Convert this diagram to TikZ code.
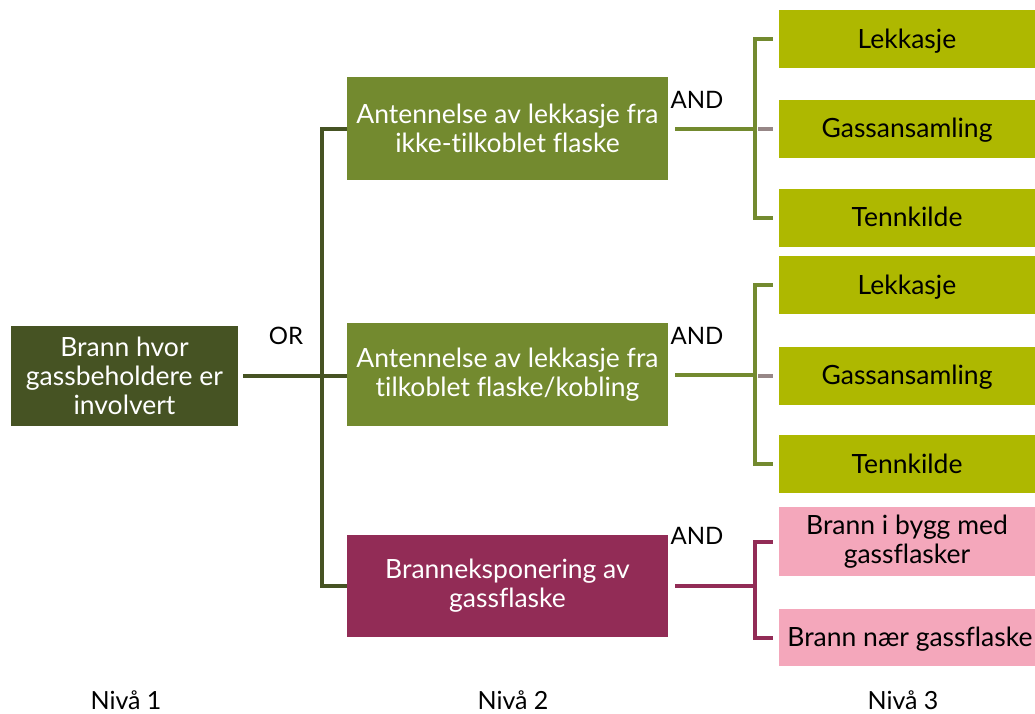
\documentclass[tikz,border=0pt]{standalone}
\usepackage{fontspec}
\setmainfont[Ligatures=NoCommon]{Lato}
\definecolor{rootc}{HTML}{465323}
\definecolor{lvgreen}{HTML}{738A2F}
\definecolor{lime}{HTML}{AEB800}
\definecolor{maroon}{HTML}{922C56}
\definecolor{pinkc}{HTML}{F4A7BB}
\definecolor{stub}{HTML}{978787}
\tikzset{
  box/.style={draw=none, inner sep=1pt, align=center, font=\fontsize{26.5}{29}\selectfont},
  rootbox/.style={box, fill=rootc, text=white, minimum width=227pt, minimum height=100pt},
  lvtwo/.style={box, fill=lvgreen, text=white, minimum width=321pt, minimum height=103pt},
  lvtwom/.style={box, fill=maroon, text=white, minimum width=321pt, minimum height=102pt},
  lvthree/.style={box, fill=lime, text=black, minimum width=256pt, minimum height=58pt, text height=23pt, text depth=5pt},
  lvpink/.style={box, fill=pinkc, text=black, minimum width=256pt},
  lbl/.style={inner sep=0pt, font=\fontsize{24}{28}\selectfont},
  lvl/.style={inner sep=0pt, font=\fontsize{25}{29}\selectfont},
  conn/.style={line width=4pt},
}
\begin{document}
\begin{tikzpicture}[x=1pt,y=-1pt]
\useasboundingbox (0,0) rectangle (1035,713);
% nodes
\node[rootbox] (root) at (124.5,376) {Brann hvor\\gassbeholdere er\\involvert};
\node[lvtwo] (La) at (507.5,128.5) {Antennelse av lekkasje fra\\ikke-tilkoblet flaske};
\node[lvtwo] (Lb) at (507.5,374.5) {Antennelse av lekkasje fra\\tilkoblet flaske/kobling};
\node[lvtwom] (Lc) at (507.5,586) {Branneksponering av\\gassflaske};
\node[lvthree] (a1) at (907,39) {Lekkasje};
\node[lvthree] (a2) at (907,128.5) {Gassansamling};
\node[lvthree] (a3) at (907,217.5) {Tennkilde};
\node[lvthree] (b1) at (907,285) {Lekkasje};
\node[lvthree] (b2) at (907,375.5) {Gassansamling};
\node[lvthree] (b3) at (907,464) {Tennkilde};
\node[lvpink, minimum height=69pt] (c1) at (907,541.5) {Brann i bygg med\\gassflasker};
\node[lvpink, minimum height=57pt, text height=23pt, text depth=5pt] (c2) at (907,637.5) {\hspace*{6pt}Brann nær gassflaske};
% labels
\node[lbl] (or) at (286,336) {OR};
\node[lbl] (anda) at (697,100) {AND};
\node[lbl] (andb) at (697,336) {AND};
\node[lbl] (andc) at (697,536) {AND};
\node[lvl] (n1) at (126,700) {Nivå 1};
\node[lvl] (n2) at (513,700) {Nivå 2};
\node[lvl] (n3) at (903,700) {Nivå 3};
% connectors level 1
\draw[conn, rootc] ([xshift=5pt]root.east) -- (root.east -| Lb.west);
\draw[conn, rootc] (La.west) -- ++(-25,0) |- (Lc.west);
% group a
\draw[conn, lvgreen] ([xshift=7pt]La.east) -- ++(80,0);
\draw[conn, lvgreen, shorten <=6pt, shorten >=6pt] (a1.west) -- ++(-24,0) |- (a3.west);
\draw[conn, stub] ([xshift=-6pt]a2.west) -- ++(-15,0);
% group b
\draw[conn, lvgreen] ([xshift=7pt]Lb.east) -- ++(80,0);
\draw[conn, lvgreen, shorten <=6pt, shorten >=6pt] (b1.west) -- ++(-24,0) |- (b3.west);
\draw[conn, stub] ([xshift=-6pt]b2.west) -- ++(-15,0);
% group c
\draw[conn, maroon] ([xshift=7pt]Lc.east) -- ++(80,0);
\draw[conn, maroon, shorten <=6pt, shorten >=6pt] (c1.west) -- ++(-24,0) |- (c2.west);
\end{tikzpicture}
\end{document}
